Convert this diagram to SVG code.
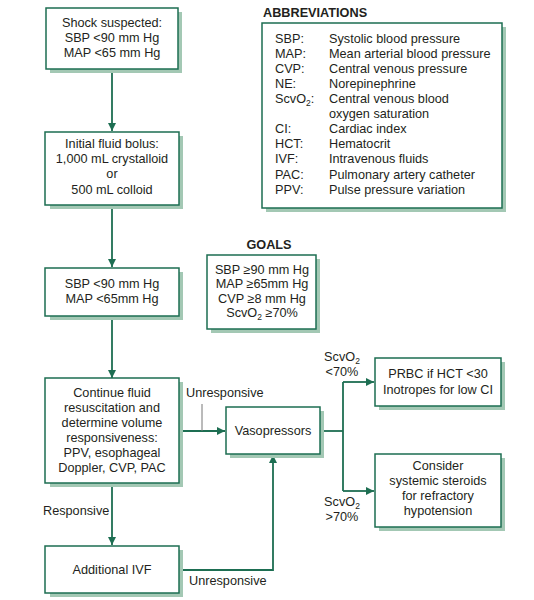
<svg xmlns="http://www.w3.org/2000/svg" width="534" height="600" viewBox="0 0 534 600">
<defs>
<style>
text{font-family:"Liberation Sans",Arial,sans-serif;font-size:12.7px;fill:#231f20}
.c{text-anchor:middle}
.b{font-weight:bold}
.box{fill:#fff;stroke:#1d6e52;stroke-width:1.5}
.sh{fill:#a3c8b4}
.ln{fill:none;stroke:#1d6e52;stroke-width:1.8}
.tick{stroke:#777;stroke-width:1}
.sub{font-size:8.5px}
</style>
<marker id="ah" markerUnits="userSpaceOnUse" markerWidth="9" markerHeight="9" viewBox="0 0 9 9" refX="8" refY="4.5" orient="auto">
<path d="M0,0.5 L8,4.5 L0,8.5 Z" fill="#1d6e52"/>
</marker>
</defs>
<rect width="534" height="600" fill="#fff"/>

<g id="connectors">
<line class="ln" x1="112" y1="69" x2="112" y2="131" marker-end="url(#ah)"/>
<line class="ln" x1="112" y1="205" x2="112" y2="267" marker-end="url(#ah)"/>
<line class="ln" x1="112" y1="316" x2="112" y2="378" marker-end="url(#ah)"/>
<line class="ln" x1="179" y1="431" x2="225" y2="431" marker-end="url(#ah)"/>
<line class="tick" x1="202" y1="404" x2="202" y2="431"/>
<line class="ln" x1="112" y1="483" x2="112" y2="545" marker-end="url(#ah)"/>
<polyline class="ln" points="179,570 273,570 273,455" marker-end="url(#ah)"/>
<line class="ln" x1="320" y1="431" x2="343" y2="431"/>
<line class="ln" x1="343" y1="382" x2="343" y2="491"/>
<line class="ln" x1="343" y1="382" x2="374" y2="382" marker-end="url(#ah)"/>
<line class="ln" x1="343" y1="491" x2="374" y2="491" marker-end="url(#ah)"/>
<text x="186" y="397">Unresponsive</text>
<text x="189" y="585">Unresponsive</text>
<text x="43" y="515">Responsive</text>
<text class="c" x="342" y="361">ScvO<tspan class="sub" dy="2.5">2</tspan></text>
<text class="c" x="342" y="376">&lt;70%</text>
<text class="c" x="342" y="506">ScvO<tspan class="sub" dy="2.5">2</tspan></text>
<text class="c" x="342" y="521">&gt;70%</text>
</g>

<g id="shock">
<rect class="sh" x="50" y="12" width="132" height="61"/>
<rect class="box" x="46" y="8" width="132" height="61"/>
<text class="c" x="112" y="27">Shock suspected:</text>
<text class="c" x="112" y="42">SBP &lt;90 mm Hg</text>
<text class="c" x="112" y="57">MAP &lt;65 mm Hg</text>
</g>

<g id="bolus">
<rect class="sh" x="50" y="136" width="133" height="73"/>
<rect class="box" x="45" y="132" width="134" height="73"/>
<text class="c" x="112" y="148">Initial fluid bolus:</text>
<text class="c" x="112" y="163">1,000 mL crystalloid</text>
<text class="c" x="112" y="178">or</text>
<text class="c" x="112" y="194">500 mL colloid</text>
</g>

<g id="sbp">
<rect class="sh" x="50" y="272" width="133" height="48"/>
<rect class="box" x="45" y="268" width="134" height="48"/>
<text class="c" x="112" y="288">SBP &lt;90 mm Hg</text>
<text class="c" x="112" y="303">MAP &lt;65mm Hg</text>
</g>

<g id="continue">
<rect class="sh" x="50" y="382" width="133" height="105"/>
<rect class="box" x="45" y="378" width="134" height="105"/>
<text class="c" x="112" y="397">Continue fluid</text>
<text class="c" x="112" y="412">resuscitation and</text>
<text class="c" x="112" y="427">determine volume</text>
<text class="c" x="112" y="442">responsiveness:</text>
<text class="c" x="112" y="457">PPV, esophageal</text>
<text class="c" x="112" y="472">Doppler, CVP, PAC</text>
</g>

<g id="ivf">
<rect class="sh" x="50" y="550" width="133" height="47"/>
<rect class="box" x="45" y="546" width="134" height="47"/>
<text class="c" x="112" y="574">Additional IVF</text>
</g>

<g id="vaso">
<rect class="sh" x="230" y="411" width="94" height="47"/>
<rect class="box" x="226" y="407" width="94" height="47"/>
<text class="c" x="273" y="435">Vasopressors</text>
</g>

<g id="prbc">
<rect class="sh" x="379" y="362" width="126" height="48"/>
<rect class="box" x="375" y="358" width="126" height="48"/>
<text class="c" x="438" y="378">PRBC if HCT &lt;30</text>
<text class="c" x="438" y="394">Inotropes for low CI</text>
</g>

<g id="steroids">
<rect class="sh" x="379" y="458" width="126" height="73"/>
<rect class="box" x="375" y="454" width="126" height="73"/>
<text class="c" x="438" y="470">Consider</text>
<text class="c" x="438" y="485">systemic steroids</text>
<text class="c" x="438" y="500">for refractory</text>
<text class="c" x="438" y="515">hypotension</text>
</g>

<g id="goals">
<text class="c b" x="269" y="249">GOALS</text>
<rect class="sh" x="211" y="259" width="109" height="74"/>
<rect class="box" x="207" y="255" width="109" height="74"/>
<text class="c" x="262" y="274">SBP ≥90 mm Hg</text>
<text class="c" x="262" y="288">MAP ≥65mm Hg</text>
<text class="c" x="262" y="303">CVP ≥8 mm Hg</text>
<text class="c" x="262" y="317">ScvO<tspan class="sub" dy="3">2</tspan><tspan dy="-3"> ≥70%</tspan></text>
</g>

<g id="abbreviations">
<text class="b" x="263" y="17">ABBREVIATIONS</text>
<rect class="sh" x="266" y="27" width="240" height="185"/>
<rect class="box" x="262" y="23" width="240" height="185"/>
<text x="275" y="43">SBP:</text><text x="329" y="43">Systolic blood pressure</text>
<text x="275" y="58">MAP:</text><text x="329" y="58">Mean arterial blood pressure</text>
<text x="275" y="73">CVP:</text><text x="329" y="73">Central venous pressure</text>
<text x="275" y="88">NE:</text><text x="329" y="88">Norepinephrine</text>
<text x="275" y="103">ScvO<tspan class="sub" dy="3">2</tspan><tspan dy="-3">:</tspan></text><text x="329" y="103">Central venous blood</text>
<text x="329" y="118">oxygen saturation</text>
<text x="275" y="133">CI:</text><text x="329" y="133">Cardiac index</text>
<text x="275" y="148">HCT:</text><text x="329" y="148">Hematocrit</text>
<text x="275" y="163">IVF:</text><text x="329" y="163">Intravenous fluids</text>
<text x="275" y="179">PAC:</text><text x="329" y="179">Pulmonary artery catheter</text>
<text x="275" y="194">PPV:</text><text x="329" y="194">Pulse pressure variation</text>
</g>
</svg>
